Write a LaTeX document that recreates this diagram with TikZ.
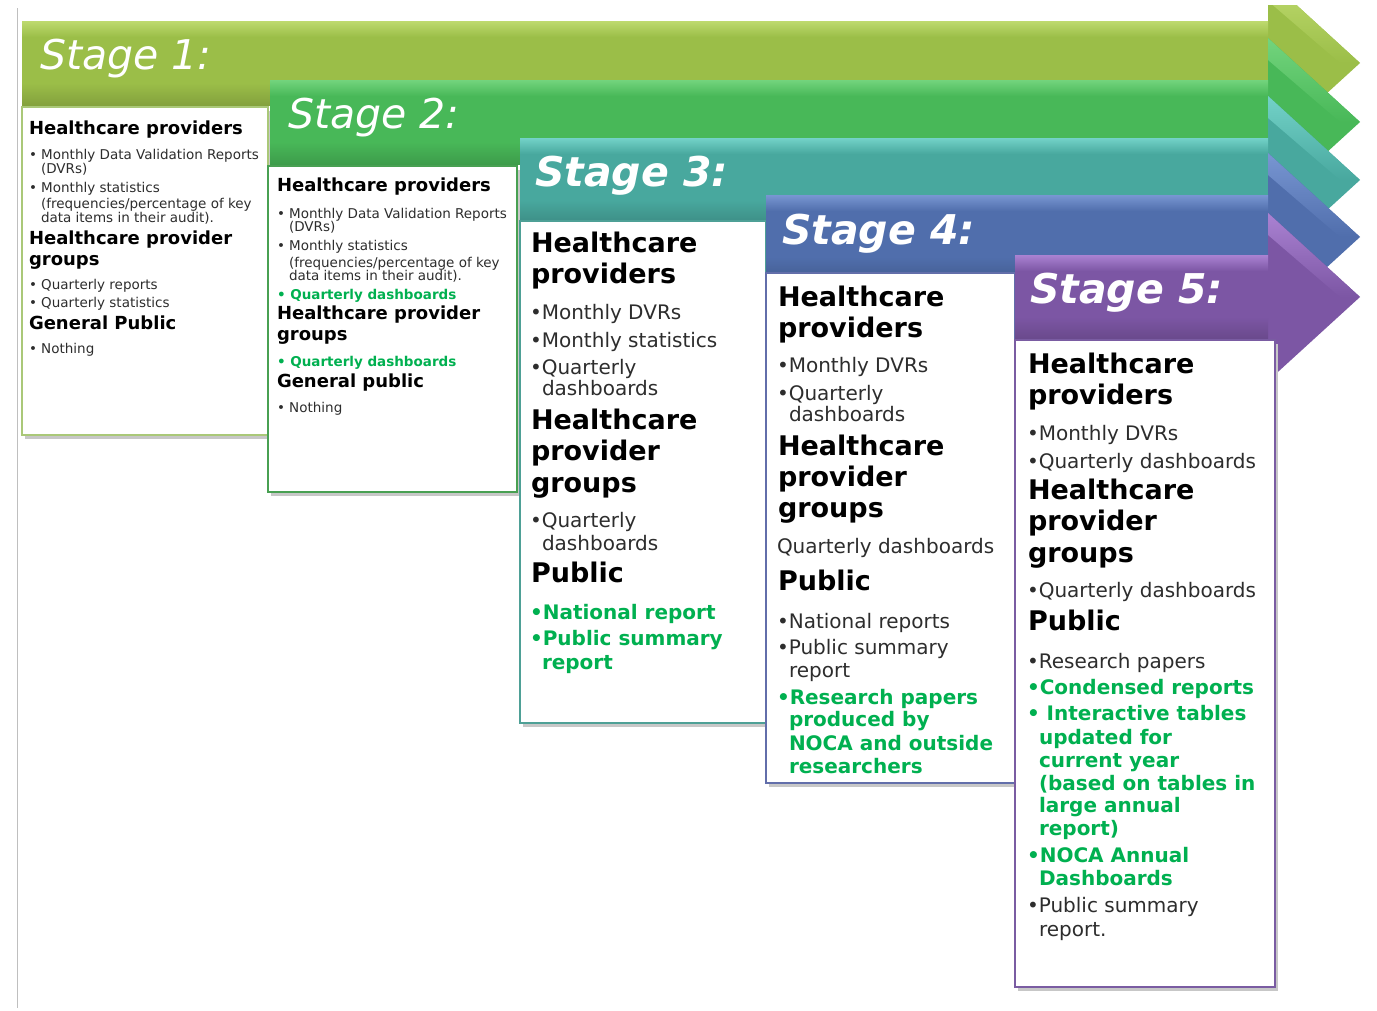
\documentclass[tikz,border=0pt]{standalone}
\usepackage{fontspec}
\setmainfont{DejaVu Sans}
\definecolor{sA}{RGB}{155,190,72}
\definecolor{sAl}{RGB}{190,218,110}
\definecolor{sB}{RGB}{72,184,88}
\definecolor{sBl}{RGB}{115,212,125}
\definecolor{sC}{RGB}{72,168,158}
\definecolor{sCl}{RGB}{115,210,200}
\definecolor{sD}{RGB}{80,110,172}
\definecolor{sDl}{RGB}{120,150,210}
\definecolor{sE}{RGB}{124,86,164}
\definecolor{sEl}{RGB}{170,130,210}
\definecolor{bA}{RGB}{170,200,120}
\definecolor{bB}{RGB}{72,160,82}
\definecolor{bC}{RGB}{78,160,150}
\definecolor{bD}{RGB}{98,110,170}
\definecolor{bE}{RGB}{122,92,162}
\definecolor{grn}{RGB}{0,176,80}
\definecolor{txt}{RGB}{45,45,45}
\tikzset{
  every node/.style={inner sep=0pt, outer sep=0pt},
  hs/.style={anchor=mid west, yshift=-4pt, font=\fontsize{18}{20}\selectfont\bfseries, text=black},
  bs/.style={anchor=mid west, yshift=-3pt, font=\fontsize{13.5}{15}\selectfont, text=txt},
  gs/.style={anchor=mid west, yshift=-3pt, font=\fontsize{13.5}{15}\selectfont\bfseries, text=grn},
  hl/.style={anchor=mid west, yshift=-7pt, font=\fontsize{27}{30}\selectfont\bfseries, text=black},
  bl/.style={anchor=mid west, yshift=-5pt, font=\fontsize{20}{22}\selectfont, text=txt},
  gl/.style={anchor=mid west, yshift=-5pt, font=\fontsize{20}{22}\selectfont\bfseries, text=grn},
  stagetxt/.style={anchor=mid west, yshift=-13pt, font=\fontsize{41}{44}\selectfont\itshape, text=white},
  stagetxtb/.style={anchor=mid west, yshift=-13pt, font=\fontsize{41}{44}\selectfont\bfseries\itshape, text=white},
  panel/.style={fill=white, line width=2.5pt},
}
\newcommand{\stagearrow}[4]{%
  \fill[#3] (#1,#2-42) -- (1268,#2-42) -- (1268,#2-84) -- (1360,#2) -- (1268,#2+84) -- (1268,#2+42) -- (#1,#2+42) -- cycle;
  \shade[top color=#4, bottom color=#3] (#1,#2-42) rectangle (1268,#2-26);
  \shade[top color=#4, bottom color=#3] (1268,#2-84) -- (1360,#2) -- (1340,#2) -- (1268,#2-62) -- cycle;
  \shade[top color=#3, bottom color=#3!85!black] (#1,#2+20) rectangle (1268,#2+42);
}
\newcommand{\panelbox}[5]{%
  \fill[black!22] (#1+3,#2+4) rectangle (#3+3,#4+4);
  \draw[panel, draw=#5] (#1,#2) rectangle (#3,#4);
}
\newcommand{\tline}[5]{\node[#1] (#2) at (#3,#4) {#5};}
\begin{document}
\begin{tikzpicture}[x=1pt,y=-1pt]
\useasboundingbox (0,0) rectangle (1377,1010);
\fill[white] (0,0) rectangle (1377,1010);
\draw[black!25, line width=1pt] (17,8) -- (17,1008);
% stage 1
\begin{scope}
\clip (0,5) rectangle (1377,1010);
\stagearrow{22}{63}{sA}{sAl}
\end{scope}
\panelbox{22}{107}{268}{435}{bA}
% stage 2
\stagearrow{270}{122}{sB}{sBl}
\panelbox{268}{166}{517}{492}{bB}
% stage 3
\stagearrow{520}{180}{sC}{sCl}
\panelbox{520}{221}{766}{723}{bC}
% stage 4
\stagearrow{766}{237}{sD}{sDl}
\panelbox{766}{273}{1015}{783}{bD}
% stage 5
\stagearrow{1015}{297}{sE}{sEl}
\panelbox{1015}{340}{1275}{987}{bE}
% stage titles
\node[stagetxt] (t1) at (40,54) {Stage 1:};
\node[stagetxt] (t2) at (288,113) {Stage 2:};
\node[stagetxtb] (t3) at (535,171) {Stage 3:};
\node[stagetxtb] (t4) at (782,229) {Stage 4:};
\node[stagetxtb] (t5) at (1030,288) {Stage 5:};
% box 1
\tline{hs}{a1}{29}{128}{Healthcare providers}
\tline{bs}{a2}{29}{154}{• Monthly Data Validation Reports}
\tline{bs}{a3}{41}{168}{(DVRs)}
\tline{bs}{a4}{29}{187}{• Monthly statistics}
\tline{bs}{a5}{41}{203}{(frequencies/percentage of key}
\tline{bs}{a6}{41}{217}{data items in their audit).}
\tline{hs}{a7}{29}{238}{Healthcare provider}
\tline{hs}{a8}{29}{259}{groups}
\tline{bs}{a9}{29}{284}{• Quarterly reports}
\tline{bs}{a10}{29}{302}{• Quarterly statistics}
\tline{hs}{a11}{29}{323}{General Public}
\tline{bs}{a12}{29}{348}{• Nothing}
% box 2
\tline{hs}{b1}{277}{185}{Healthcare providers}
\tline{bs}{b2}{277}{213}{• Monthly Data Validation Reports}
\tline{bs}{b3}{289}{226}{(DVRs)}
\tline{bs}{b4}{277}{245}{• Monthly statistics}
\tline{bs}{b5}{289}{262}{(frequencies/percentage of key}
\tline{bs}{b6}{289}{275}{data items in their audit).}
\tline{gs}{b7}{277}{294}{• Quarterly dashboards}
\tline{hs}{b8}{277}{313}{Healthcare provider}
\tline{hs}{b9}{277}{334}{groups}
\tline{gs}{b10}{277}{361}{• Quarterly dashboards}
\tline{hs}{b11}{277}{381}{General public}
\tline{bs}{b12}{277}{407}{• Nothing}
% box 3
\tline{hl}{c1}{531}{243}{Healthcare}
\tline{hl}{c2}{531}{274}{providers}
\tline{bl}{c3}{530}{312}{•Monthly DVRs}
\tline{bl}{c4}{530}{340}{•Monthly statistics}
\tline{bl}{c5}{530}{367}{•Quarterly}
\tline{bl}{c6}{542}{388}{dashboards}
\tline{hl}{c7}{531}{420}{Healthcare}
\tline{hl}{c8}{531}{451}{provider}
\tline{hl}{c9}{531}{483}{groups}
\tline{bl}{c10}{530}{520}{•Quarterly}
\tline{bl}{c11}{542}{543}{dashboards}
\tline{hl}{c12}{531}{573}{Public}
\tline{gl}{c13}{530}{612}{•National report}
\tline{gl}{c14}{530}{638}{•Public summary}
\tline{gl}{c15}{542}{662}{report}
% box 4
\tline{hl}{d1}{778}{297}{Healthcare}
\tline{hl}{d2}{778}{328}{providers}
\tline{bl}{d3}{777}{365}{•Monthly DVRs}
\tline{bl}{d4}{777}{393}{•Quarterly}
\tline{bl}{d5}{789}{414}{dashboards}
\tline{hl}{d6}{778}{446}{Healthcare}
\tline{hl}{d7}{778}{477}{provider}
\tline{hl}{d8}{778}{508}{groups}
\tline{bl}{d9}{777}{546}{Quarterly dashboards}
\tline{hl}{d10}{778}{581}{Public}
\tline{bl}{d11}{777}{621}{•National reports}
\tline{bl}{d12}{777}{647}{•Public summary}
\tline{bl}{d13}{789}{670}{report}
\tline{gl}{d14}{777}{697}{•Research papers}
\tline{gl}{d15}{789}{719}{produced by}
\tline{gl}{d16}{789}{743}{NOCA and outside}
\tline{gl}{d17}{789}{766}{researchers}
% box 5
\tline{hl}{e1}{1028}{364}{Healthcare}
\tline{hl}{e2}{1028}{395}{providers}
\tline{bl}{e3}{1027}{433}{•Monthly DVRs}
\tline{bl}{e4}{1027}{461}{•Quarterly dashboards}
\tline{hl}{e5}{1028}{490}{Healthcare}
\tline{hl}{e6}{1028}{521}{provider}
\tline{hl}{e7}{1028}{553}{groups}
\tline{bl}{e8}{1027}{590}{•Quarterly dashboards}
\tline{hl}{e9}{1028}{621}{Public}
\tline{bl}{e10}{1027}{661}{•Research papers}
\tline{gl}{e11}{1027}{687}{•Condensed reports}
\tline{gl}{e12}{1027}{713}{• Interactive tables}
\tline{gl}{e13}{1039}{737}{updated for}
\tline{gl}{e14}{1039}{760}{current year}
\tline{gl}{e15}{1039}{783}{(based on tables in}
\tline{gl}{e16}{1039}{805}{large annual}
\tline{gl}{e17}{1039}{828}{report)}
\tline{gl}{e18}{1027}{855}{•NOCA Annual}
\tline{gl}{e19}{1039}{878}{Dashboards}
\tline{bl}{e20}{1027}{905}{•Public summary}
\tline{bl}{e21}{1039}{929}{report.}
\end{tikzpicture}
\end{document}
